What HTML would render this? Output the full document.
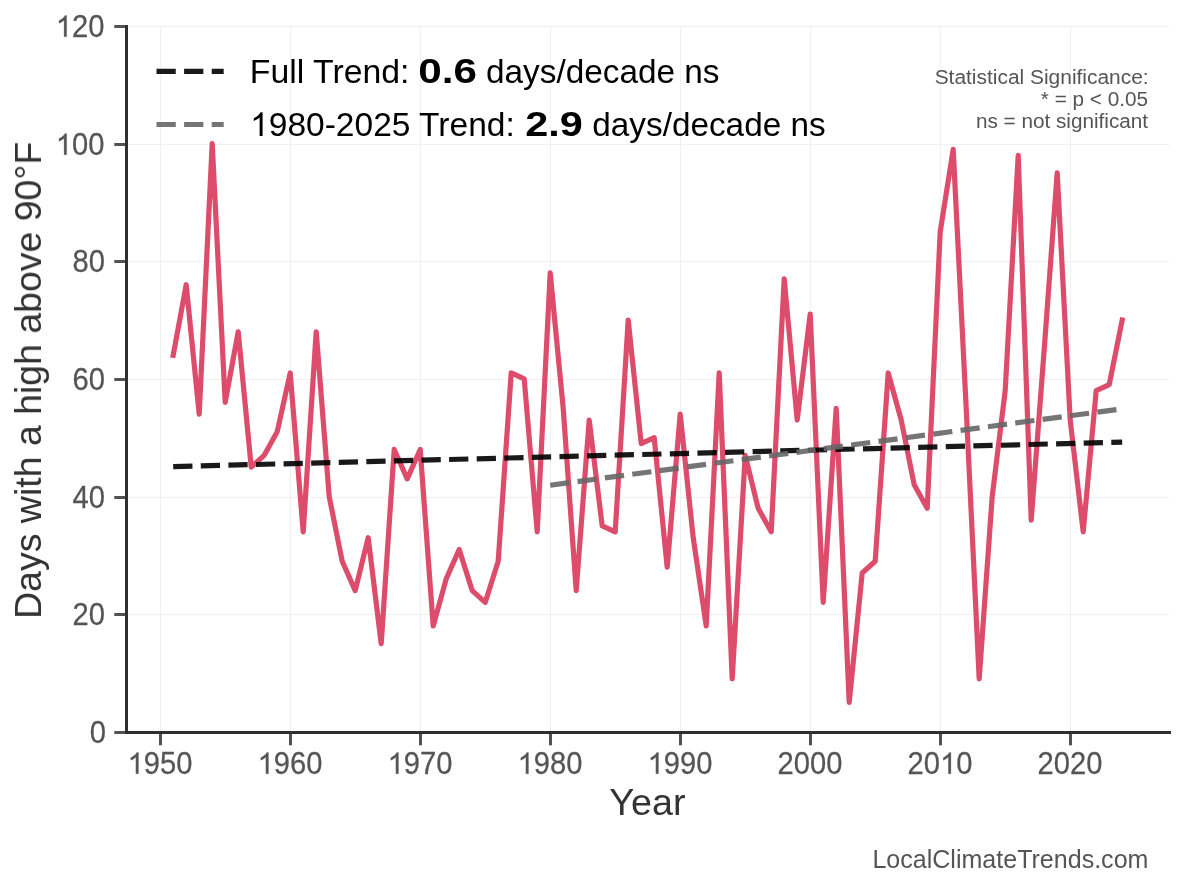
<!DOCTYPE html>
<html><head><meta charset="utf-8"><title>Days with a high above 90F - LocalClimateTrends.com</title>
<style>
html,body{margin:0;padding:0;background:#fff;}
body{width:1184px;height:888px;overflow:hidden;}
svg{display:block;will-change:transform;}
.t{filter:grayscale(1);}
text{font-family:"Liberation Sans",sans-serif;}
</style></head><body>
<svg width="1184" height="888" viewBox="0 0 1184 888">
<rect width="1184" height="888" fill="#ffffff"/>
<g stroke="#f0f0f0" stroke-width="1" fill="none">
<line x1="160.50" y1="26.5" x2="160.50" y2="732.5"/>
<line x1="290.50" y1="26.5" x2="290.50" y2="732.5"/>
<line x1="420.50" y1="26.5" x2="420.50" y2="732.5"/>
<line x1="550.50" y1="26.5" x2="550.50" y2="732.5"/>
<line x1="680.50" y1="26.5" x2="680.50" y2="732.5"/>
<line x1="810.50" y1="26.5" x2="810.50" y2="732.5"/>
<line x1="940.50" y1="26.5" x2="940.50" y2="732.5"/>
<line x1="1070.50" y1="26.5" x2="1070.50" y2="732.5"/>
<line x1="126.5" y1="732.5" x2="1169.0" y2="732.5"/>
<line x1="126.5" y1="614.5" x2="1169.0" y2="614.5"/>
<line x1="126.5" y1="497.5" x2="1169.0" y2="497.5"/>
<line x1="126.5" y1="379.5" x2="1169.0" y2="379.5"/>
<line x1="126.5" y1="261.5" x2="1169.0" y2="261.5"/>
<line x1="126.5" y1="144.5" x2="1169.0" y2="144.5"/>
<line x1="126.5" y1="26.5" x2="1169.0" y2="26.5"/>
</g>
<polyline points="173.20,355.32 186.20,284.72 199.20,414.15 212.20,143.52 225.20,402.38 238.20,331.78 251.20,467.10 264.20,455.33 277.20,431.80 290.20,372.97 303.20,531.82 316.20,331.78 329.20,496.52 342.20,561.23 355.20,590.65 368.20,537.70 381.20,643.60 394.20,449.45 407.20,478.87 420.20,449.45 433.20,625.95 446.20,578.88 459.20,549.47 472.20,590.65 485.20,602.42 498.20,561.23 511.20,372.97 524.20,378.85 537.20,531.82 550.20,272.95 563.20,408.27 576.20,590.65 589.20,420.03 602.20,525.93 615.20,531.82 628.20,320.02 641.20,443.57 654.20,437.68 667.20,567.12 680.20,414.15 693.20,537.70 706.20,625.95 719.20,372.97 732.20,678.90 745.20,455.33 758.20,508.28 771.20,531.82 784.20,278.83 797.20,420.03 810.20,314.13 823.20,602.42 836.20,408.27 849.20,702.43 862.20,573.00 875.20,561.23 888.20,372.97 901.20,420.03 914.20,484.75 927.20,508.28 940.20,231.77 953.20,149.40 966.20,408.27 979.20,678.90 992.20,496.52 1005.20,390.62 1018.20,155.28 1031.20,520.05 1044.20,349.43 1057.20,172.93 1070.20,420.03 1083.20,531.82 1096.20,390.62 1109.20,384.73 1122.20,320.02" fill="none" stroke="#dd4c6b" stroke-width="5.2" stroke-linejoin="round" stroke-linecap="square"/>
<line x1="173.20" y1="466.63" x2="1122.20" y2="442.10" stroke="#000000" stroke-opacity="0.9" stroke-width="5.2" stroke-dasharray="19.27 8.33"/>
<line x1="550.20" y1="485.22" x2="1122.20" y2="408.80" stroke="#666666" stroke-opacity="0.9" stroke-width="5.2" stroke-dasharray="19.27 8.33"/>
<g stroke="#2f2f2f" stroke-width="3" fill="none" stroke-linecap="square">
<line x1="126.5" y1="26.5" x2="126.5" y2="732.5"/>
<line x1="126.5" y1="732.5" x2="1169.5" y2="732.5"/>
</g>
<g stroke="#525252" stroke-width="3" fill="none">
<line x1="160.50" y1="734.0" x2="160.50" y2="745.3"/>
<line x1="290.50" y1="734.0" x2="290.50" y2="745.3"/>
<line x1="420.50" y1="734.0" x2="420.50" y2="745.3"/>
<line x1="550.50" y1="734.0" x2="550.50" y2="745.3"/>
<line x1="680.50" y1="734.0" x2="680.50" y2="745.3"/>
<line x1="810.50" y1="734.0" x2="810.50" y2="745.3"/>
<line x1="940.50" y1="734.0" x2="940.50" y2="745.3"/>
<line x1="1070.50" y1="734.0" x2="1070.50" y2="745.3"/>
<line x1="114.3" y1="732.5" x2="125.0" y2="732.5"/>
<line x1="114.3" y1="614.5" x2="125.0" y2="614.5"/>
<line x1="114.3" y1="497.5" x2="125.0" y2="497.5"/>
<line x1="114.3" y1="379.5" x2="125.0" y2="379.5"/>
<line x1="114.3" y1="261.5" x2="125.0" y2="261.5"/>
<line x1="114.3" y1="144.5" x2="125.0" y2="144.5"/>
<line x1="114.3" y1="26.5" x2="125.0" y2="26.5"/>
</g>
<g class="t">
<g fill="#555555" stroke="#555555" stroke-width="0.25" font-size="29.17">
<path transform="translate(127.60,773.70) scale(0.01424,-0.01448)" d="M763 0H583V1147Q518 1085 412.5 1023T223 930V1104Q373 1175 485 1275T644 1469H763Z" vector-effect="non-scaling-stroke"/>
<text transform="translate(127.60,773.70) scale(1.0,1.06)" x="16.22 32.45 48.67" y="0">950</text>
<path transform="translate(257.60,773.70) scale(0.01424,-0.01448)" d="M763 0H583V1147Q518 1085 412.5 1023T223 930V1104Q373 1175 485 1275T644 1469H763Z" vector-effect="non-scaling-stroke"/>
<text transform="translate(257.60,773.70) scale(1.0,1.06)" x="16.22 32.45 48.67" y="0">960</text>
<path transform="translate(387.60,773.70) scale(0.01424,-0.01448)" d="M763 0H583V1147Q518 1085 412.5 1023T223 930V1104Q373 1175 485 1275T644 1469H763Z" vector-effect="non-scaling-stroke"/>
<text transform="translate(387.60,773.70) scale(1.0,1.06)" x="16.22 32.45 48.67" y="0">970</text>
<path transform="translate(517.60,773.70) scale(0.01424,-0.01448)" d="M763 0H583V1147Q518 1085 412.5 1023T223 930V1104Q373 1175 485 1275T644 1469H763Z" vector-effect="non-scaling-stroke"/>
<text transform="translate(517.60,773.70) scale(1.0,1.06)" x="16.22 32.45 48.67" y="0">980</text>
<path transform="translate(647.60,773.70) scale(0.01424,-0.01448)" d="M763 0H583V1147Q518 1085 412.5 1023T223 930V1104Q373 1175 485 1275T644 1469H763Z" vector-effect="non-scaling-stroke"/>
<text transform="translate(647.60,773.70) scale(1.0,1.06)" x="16.22 32.45 48.67" y="0">990</text>
<text transform="translate(777.60,773.70) scale(1.0,1.06)" x="0.00 16.22 32.45 48.67" y="0">2000</text>
<path transform="translate(940.05,773.70) scale(0.01424,-0.01448)" d="M763 0H583V1147Q518 1085 412.5 1023T223 930V1104Q373 1175 485 1275T644 1469H763Z" vector-effect="non-scaling-stroke"/>
<text transform="translate(907.60,773.70) scale(1.0,1.06)" x="0.00 16.22 48.67" y="0">200</text>
<text transform="translate(1037.60,773.70) scale(1.0,1.06)" x="0.00 16.22 32.45 48.67" y="0">2020</text>
<text transform="translate(89.83,742.67) scale(1.0,1.06)" x="0.00" y="0">0</text>
<text transform="translate(72.60,624.77) scale(1.0,1.06)" x="0.00 16.22" y="0">20</text>
<text transform="translate(72.60,507.72) scale(1.0,1.06)" x="0.00 16.22" y="0">40</text>
<text transform="translate(72.60,389.72) scale(1.0,1.06)" x="0.00 16.22" y="0">60</text>
<text transform="translate(72.60,271.72) scale(1.0,1.06)" x="0.00 16.22" y="0">80</text>
<path transform="translate(55.78,154.77) scale(0.01424,-0.01448)" d="M763 0H583V1147Q518 1085 412.5 1023T223 930V1104Q373 1175 485 1275T644 1469H763Z" vector-effect="non-scaling-stroke"/>
<text transform="translate(55.78,154.77) scale(1.0,1.06)" x="16.22 32.45" y="0">00</text>
<path transform="translate(55.78,36.77) scale(0.01424,-0.01448)" d="M763 0H583V1147Q518 1085 412.5 1023T223 930V1104Q373 1175 485 1275T644 1469H763Z" vector-effect="non-scaling-stroke"/>
<text transform="translate(55.78,36.77) scale(1.0,1.06)" x="16.22 32.45" y="0">20</text>
</g>
<text transform="translate(609.36,814.60) scale(1.0052,1.0)" font-size="37.5" font-weight="normal" fill="#333333">Year</text>
<text transform="translate(41.0,618.91) rotate(-90) scale(0.9990,1)" font-size="37.5" fill="#333333">Days with a high above 90°F</text>
<line x1="156.5" y1="71.4" x2="223.7" y2="71.4" stroke="#000000" stroke-opacity="0.9" stroke-width="5.2" stroke-dasharray="19.27 8.33"/>
<line x1="156.5" y1="124.5" x2="223.7" y2="124.5" stroke="#666666" stroke-opacity="0.9" stroke-width="5.2" stroke-dasharray="19.27 8.33"/>
<text transform="translate(249.73,82.90) scale(1.0146,1.0)" font-size="33.33" font-weight="normal" fill="#000">Full Trend:</text>
<text transform="translate(418.25,82.60) scale(1.2661,1.075)" font-size="33.33" font-weight="bold" fill="#000">0.6</text>
<text transform="translate(486.01,82.90) scale(1.0000,1.0)" font-size="33.33" font-weight="normal" fill="#000">days/decade ns</text>
<path transform="translate(250.10,135.90) scale(0.01637,-0.01608)" d="M763 0H583V1147Q518 1085 412.5 1023T223 930V1104Q373 1175 485 1275T644 1469H763Z" fill="#000"/>
<text transform="translate(268.75,135.90) scale(1.0060,1)" font-size="33.33" fill="#000">980-2025 Trend:</text>
<text transform="translate(525.24,135.60) scale(1.2408,1.075)" font-size="33.33" font-weight="bold" fill="#000">2.9</text>
<text transform="translate(592.31,135.90) scale(0.9996,1.0)" font-size="33.33" font-weight="normal" fill="#000">days/decade ns</text>
<text transform="translate(934.63,83.90) scale(1.0052,1.0)" font-size="20.83" font-weight="normal" fill="#555555">Statistical Significance:</text>
<text transform="translate(1040.84,105.60) scale(0.9955,1.0)" font-size="20.83" font-weight="normal" fill="#555555">* = p &lt; 0.05</text>
<text transform="translate(975.91,127.80) scale(0.9959,1.0)" font-size="20.83" font-weight="normal" fill="#555555">ns = not significant</text>
<text transform="translate(872.39,868.00) scale(1.0021,1.0)" font-size="25" font-weight="normal" fill="#555555">LocalClimateTrends.com</text>
</g>
</svg></body></html>
